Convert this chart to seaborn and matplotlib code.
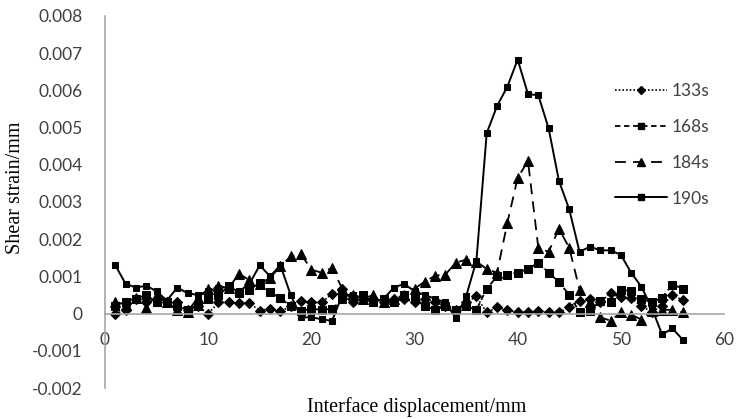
import numpy as np
import pandas as pd
import matplotlib
matplotlib.use("Agg")
import matplotlib.pyplot as plt
import seaborn as sns
from matplotlib.lines import Line2D

displacement = list(range(1, 57))

s133 = [0.0000, 0.0001, 0.0004, 0.0003, 0.0004, 0.0003, 0.0003, 0.0001, 0.0002, 0.0000,
        0.0003, 0.0003, 0.00028, 0.00028, 0.00008, 0.00013, 0.00006, 0.0002, 0.00035, 0.0003,
        0.0003, 0.00053, 0.00067, 0.0003, 0.0004, 0.0004, 0.0003, 0.0004, 0.0004, 0.0003,
        0.0004, 0.0003, 0.0002, 0.0001, 0.0003, 0.00046, 0.00003, 0.00017, 0.0001, 0.00003,
        0.00003, 0.00008, 0.00003, 0.00003, 0.00018, 0.00035, 0.0004, 0.0003, 0.00056, 0.00045,
        0.00042, 0.0002, 0.00005, 0.0002, 0.0005, 0.00036]

s168 = [0.0002, 0.0003, 0.0004, 0.0005, 0.0003, 0.0003, 0.0002, 0.0001, 0.0002, 0.0004,
        0.0005, 0.00073, 0.00056, 0.00064, 0.00083, 0.00057, 0.00042, 0.0002, 0.00007, 0.00013,
        0.0001, 0.00013, 0.00038, 0.0004, 0.0005, 0.0003, 0.0004, 0.0003, 0.0005, 0.0004,
        0.0002, 0.0001, 0.0002, 0.0001, 0.0002, 0.0001, 0.00067, 0.001, 0.00105, 0.0011,
        0.0012, 0.00137, 0.0011, 0.00085, 0.0005, 0.00004, 0.00008, 0.00035, 0.0003, 0.00064,
        0.0006, 0.0004, 0.0003, 0.00043, 0.00078, 0.00067]

s184 = [0.00032, 0.00024, 0.00043, 0.00016, 0.0005, 0.00032, 0.0001, 0.00005, 0.00043, 0.00065,
        0.00073, 0.0007, 0.00107, 0.0009, 0.0008, 0.00096, 0.00127, 0.00154, 0.0016, 0.00118,
        0.0011, 0.00123, 0.00067, 0.0005, 0.0004, 0.0005, 0.0003, 0.0004, 0.0005, 0.00067,
        0.00086, 0.00102, 0.00105, 0.00137, 0.00145, 0.0014, 0.0012, 0.0011, 0.00244, 0.00365,
        0.0041, 0.00177, 0.00166, 0.00228, 0.00177, 0.00064, 0.00032, -0.0001, -0.00019, 0.00003,
        -0.00003, -0.00016, 0.00008, 0.0001, 0.0001, 0.00003]

s190 = [0.0013, 0.0008, 0.0007, 0.00075, 0.0006, 0.00035, 0.0007, 0.00055, 0.0005, 0.0006,
        0.0007, 0.0007, 0.0006, 0.0008, 0.0013, 0.001, 0.0013, 0.0005, -0.0001, -0.0001,
        -0.00015, -0.0002, 0.0005, 0.0005, 0.0004, 0.0003, 0.0004, 0.0007, 0.0008, 0.0006,
        0.0005, 0.0004, 0.0003, -0.00012, 0.00046, 0.00142, 0.00485, 0.00558, 0.0061, 0.00683,
        0.0059, 0.00587, 0.00498, 0.00357, 0.0028, 0.00166, 0.0018, 0.0017, 0.0017, 0.00158,
        0.0011, 0.00072, 0.00015, -0.00056, -0.0004, -0.0007]

series_names = ["133s", "168s", "184s", "190s"]
series_values = [s133, s168, s184, s190]

sns.set_theme(style="white")
plt.rcParams["font.family"] = ["Lato", "DejaVu Sans"]

fig = plt.figure(figsize=(7.36, 4.19), dpi=100)
ax = fig.add_axes([105 / 736, 31 / 419, 619 / 736, 372 / 419])

styles = {
    "133s": dict(linestyle=(0, (1, 1.2)), marker="D", markersize=5, linewidth=1.2),
    "168s": dict(linestyle=(0, (3, 2)), marker="s", markersize=5.5, linewidth=1.3),
    "184s": dict(linestyle=(0, (6, 4)), marker="^", markersize=7, linewidth=1.3),
    "190s": dict(linestyle="-", marker="s", markersize=5, linewidth=1.4),
}

handles = []
for name, vals in zip(series_names, series_values):
    df = pd.DataFrame({"x": displacement, "y": vals})
    st = styles[name]
    sns.lineplot(data=df, x="x", y="y", ax=ax, color="black",
                 linestyle=st["linestyle"], marker=st["marker"],
                 markersize=st["markersize"], linewidth=st["linewidth"],
                 markeredgecolor="black", markerfacecolor="black")
    handles.append(Line2D([], [], color="black", linestyle=st["linestyle"],
                          marker=st["marker"], markersize=st["markersize"] * 0.8,
                          linewidth=st["linewidth"], label=name))

ax.set_xlim(0, 60)
ax.set_ylim(-0.002, 0.008)
ax.set_xticks(range(0, 61, 10))
ax.set_yticks([-0.002, -0.001, 0, 0.001, 0.002, 0.003, 0.004, 0.005, 0.006, 0.007, 0.008])
ax.set_yticklabels(["-0.002", "-0.001", "0", "0.001", "0.002", "0.003", "0.004",
                    "0.005", "0.006", "0.007", "0.008"])

for side in ["top", "right"]:
    ax.spines[side].set_visible(False)
ax.spines["bottom"].set_position(("data", 0))
for side in ["left", "bottom"]:
    ax.spines[side].set_color("#a6a6a6")
    ax.spines[side].set_linewidth(1.2)

ax.tick_params(axis="x", length=0, pad=13, labelsize=12.5, labelcolor="#404040")
ax.tick_params(axis="y", length=0, pad=16, labelsize=12.5, labelcolor="#404040")

ax.set_xlabel("")
ax.set_ylabel("")
fig.text(417 / 736, 1 - 407 / 419, "Interface displacement/mm", ha="center", va="center",
         fontsize=14.5, family="Liberation Serif", color="black")
fig.text(16 / 736, 1 - 188 / 419, "Shear strain/mm", ha="center", va="center",
         rotation=90, fontsize=14.5, family="Liberation Serif", color="black")

leg = ax.legend(handles=handles, loc="upper left", bbox_to_anchor=(606 / 736, 1 - 74 / 419),
                bbox_transform=fig.transFigure, frameon=False, fontsize=12.5,
                handlelength=3.0, labelspacing=1.15, handletextpad=0.3, borderpad=0)
for t in leg.get_texts():
    t.set_color("#404040")

fig.savefig("out.png", dpi=100)
